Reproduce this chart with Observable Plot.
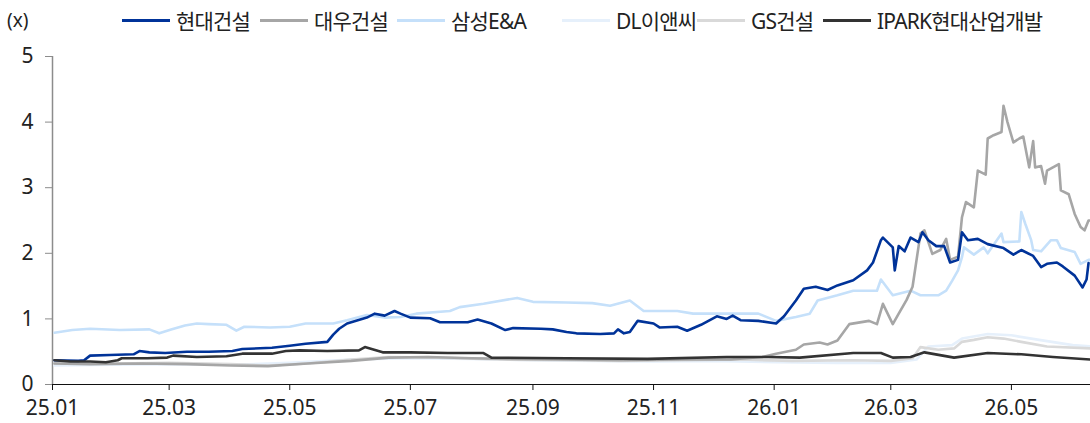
<!DOCTYPE html>
<html><head><meta charset="utf-8">
<script src="https://cdn.jsdelivr.net/npm/d3@7"></script>
<script src="https://cdn.jsdelivr.net/npm/@observablehq/plot@0.6"></script>
<style>
body{margin:0;background:#fff;}
#wrap{width:1090px;font-family:"Noto Sans","Noto Sans CJK KR",sans-serif;color:#222;}
#head{position:relative;height:40px;}
#unit{position:absolute;left:7px;top:7px;font-size:19px;}
.item{position:absolute;top:5px;display:flex;align-items:center;font-size:21px;letter-spacing:-0.8px;white-space:nowrap;}
.sw{width:48px;height:3px;margin-right:6px;}
</style></head>
<body><div id="wrap"><div id="head"><div id="unit">(x)</div></div><div id="chart"></div></div>
<script>
const seriesNames = ["현대건설","대우건설","삼성E&A","DL이앤씨","GS건설","IPARK현대산업개발"];
const seriesColors = ["#003399","#a6a6a6","#c5e0fa","#e6f0fb","#d9d9d9","#333333"];
const xTicks = ["2025-01-01","2025-03-01","2025-05-01","2025-07-01","2025-09-01","2025-11-01","2026-01-01","2026-03-01","2026-05-01"];
const yTicks = [0,1,2,3,4,5];

const hdec = [["2025-01-02",0.37],["2025-01-14",0.36],["2025-01-17",0.37],["2025-01-20",0.44],["2025-01-30",0.45],["2025-02-11",0.46],["2025-02-14",0.51],["2025-02-19",0.49],["2025-02-27",0.48],["2025-03-10",0.50],["2025-03-21",0.50],["2025-04-02",0.51],["2025-04-07",0.54],["2025-04-22",0.56],["2025-05-01",0.59],["2025-05-09",0.62],["2025-05-20",0.65],["2025-05-23",0.76],["2025-05-26",0.85],["2025-05-30",0.93],["2025-06-09",1.02],["2025-06-13",1.08],["2025-06-18",1.05],["2025-06-23",1.12],["2025-06-26",1.08],["2025-07-01",1.02],["2025-07-11",1.01],["2025-07-16",0.95],["2025-07-30",0.95],["2025-08-04",0.99],["2025-08-11",0.93],["2025-08-18",0.83],["2025-08-22",0.86],["2025-09-05",0.85],["2025-09-11",0.84],["2025-09-18",0.80],["2025-09-23",0.78],["2025-10-05",0.77],["2025-10-12",0.78],["2025-10-14",0.84],["2025-10-17",0.78],["2025-10-20",0.80],["2025-10-24",0.97],["2025-11-01",0.93],["2025-11-04",0.87],["2025-11-13",0.88],["2025-11-18",0.82],["2025-11-25",0.91],["2025-12-03",1.04],["2025-12-08",1.00],["2025-12-11",1.05],["2025-12-15",0.98],["2025-12-24",0.97],["2026-01-02",0.93],["2026-01-06",1.04],["2026-01-12",1.28],["2026-01-16",1.46],["2026-01-22",1.49],["2026-01-28",1.44],["2026-02-02",1.51],["2026-02-10",1.59],["2026-02-17",1.74],["2026-02-20",1.86],["2026-02-24",2.20],["2026-02-25",2.24],["2026-03-02",2.09],["2026-03-03",1.74],["2026-03-05",2.11],["2026-03-08",2.03],["2026-03-11",2.24],["2026-03-15",2.17],["2026-03-17",2.32],["2026-03-20",2.20],["2026-03-24",2.11],["2026-03-28",2.11],["2026-03-31",1.86],["2026-04-04",1.90],["2026-04-06",2.32],["2026-04-09",2.20],["2026-04-14",2.22],["2026-04-19",2.14],["2026-04-27",2.08],["2026-05-02",1.98],["2026-05-06",2.05],["2026-05-12",1.96],["2026-05-16",1.79],["2026-05-19",1.84],["2026-05-24",1.86],["2026-05-27",1.80],["2026-06-02",1.66],["2026-06-06",1.48],["2026-06-08",1.60],["2026-06-09",1.85]];

const daewoo = [["2025-01-02",0.32],["2025-01-20",0.31],["2025-02-15",0.32],["2025-03-10",0.31],["2025-04-01",0.29],["2025-04-20",0.28],["2025-05-10",0.32],["2025-06-01",0.36],["2025-06-20",0.41],["2025-07-10",0.42],["2025-08-01",0.40],["2025-08-20",0.39],["2025-09-15",0.38],["2025-10-15",0.37],["2025-11-15",0.38],["2025-12-10",0.38],["2025-12-26",0.42],["2026-01-02",0.47],["2026-01-12",0.53],["2026-01-16",0.61],["2026-01-24",0.64],["2026-01-28",0.61],["2026-02-02",0.67],["2026-02-08",0.92],["2026-02-18",0.97],["2026-02-22",0.92],["2026-02-25",1.23],["2026-03-02",0.92],["2026-03-05",1.08],["2026-03-09",1.29],["2026-03-12",1.49],["2026-03-16",2.30],["2026-03-18",2.35],["2026-03-22",1.99],["2026-03-26",2.05],["2026-03-29",2.22],["2026-03-31",1.90],["2026-04-04",1.95],["2026-04-06",2.55],["2026-04-08",2.78],["2026-04-12",2.70],["2026-04-14",3.26],["2026-04-18",3.20],["2026-04-19",3.75],["2026-04-22",3.80],["2026-04-26",3.85],["2026-04-27",4.25],["2026-04-29",4.00],["2026-05-02",3.69],["2026-05-05",3.75],["2026-05-07",3.78],["2026-05-10",3.31],["2026-05-12",3.71],["2026-05-13",3.31],["2026-05-16",3.33],["2026-05-18",3.06],["2026-05-19",3.26],["2026-05-25",3.36],["2026-05-26",2.96],["2026-05-30",2.90],["2026-06-02",2.60],["2026-06-05",2.40],["2026-06-07",2.35],["2026-06-09",2.50],["2026-06-10",2.50]];

const samsung = [["2025-01-02",0.79],["2025-01-11",0.83],["2025-01-20",0.85],["2025-02-04",0.83],["2025-02-19",0.84],["2025-02-24",0.78],["2025-03-02",0.84],["2025-03-09",0.90],["2025-03-15",0.93],["2025-03-21",0.92],["2025-03-30",0.91],["2025-04-04",0.82],["2025-04-08",0.88],["2025-04-21",0.87],["2025-05-01",0.88],["2025-05-09",0.93],["2025-05-23",0.93],["2025-05-30",0.98],["2025-06-09",1.06],["2025-06-18",1.02],["2025-06-26",1.03],["2025-07-04",1.08],["2025-07-21",1.12],["2025-07-26",1.18],["2025-08-07",1.23],["2025-08-24",1.32],["2025-09-01",1.26],["2025-09-18",1.25],["2025-10-01",1.24],["2025-10-10",1.20],["2025-10-20",1.28],["2025-10-27",1.12],["2025-11-13",1.12],["2025-11-21",1.08],["2025-12-24",1.08],["2026-01-02",0.97],["2026-01-12",1.03],["2026-01-19",1.08],["2026-01-23",1.28],["2026-02-02",1.36],["2026-02-10",1.43],["2026-02-15",1.43],["2026-02-22",1.43],["2026-02-24",1.60],["2026-03-02",1.36],["2026-03-11",1.43],["2026-03-16",1.36],["2026-03-25",1.36],["2026-03-29",1.43],["2026-04-01",1.58],["2026-04-04",1.74],["2026-04-06",1.94],["2026-04-07",2.09],["2026-04-12",1.98],["2026-04-17",2.09],["2026-04-19",2.00],["2026-04-26",2.30],["2026-04-27",2.17],["2026-05-05",2.18],["2026-05-06",2.63],["2026-05-08",2.45],["2026-05-11",2.20],["2026-05-12",2.05],["2026-05-16",2.03],["2026-05-21",2.20],["2026-05-24",2.20],["2026-05-26",2.08],["2026-06-02",2.02],["2026-06-05",1.84],["2026-06-09",1.90],["2026-06-10",1.90]];

const dl = [["2025-01-02",0.29],["2025-02-01",0.30],["2025-03-01",0.31],["2025-04-01",0.30],["2025-05-01",0.33],["2025-06-01",0.38],["2025-07-01",0.40],["2025-08-01",0.39],["2025-09-01",0.37],["2025-10-01",0.36],["2025-11-01",0.35],["2025-12-01",0.36],["2026-01-02",0.34],["2026-02-01",0.33],["2026-03-01",0.33],["2026-03-14",0.38],["2026-03-20",0.58],["2026-04-01",0.60],["2026-04-06",0.70],["2026-04-19",0.77],["2026-05-01",0.75],["2026-05-15",0.68],["2026-06-01",0.60],["2026-06-10",0.58]];

const gs = [["2025-01-02",0.32],["2025-02-01",0.32],["2025-03-01",0.33],["2025-04-01",0.31],["2025-04-20",0.29],["2025-05-10",0.32],["2025-06-01",0.38],["2025-06-20",0.42],["2025-07-15",0.41],["2025-08-15",0.38],["2025-09-15",0.37],["2025-10-15",0.36],["2025-11-15",0.37],["2025-12-15",0.38],["2026-01-10",0.36],["2026-02-10",0.37],["2026-03-01",0.36],["2026-03-12",0.40],["2026-03-16",0.57],["2026-03-25",0.53],["2026-04-02",0.55],["2026-04-06",0.65],["2026-04-12",0.68],["2026-04-19",0.72],["2026-04-27",0.70],["2026-05-06",0.65],["2026-05-19",0.58],["2026-06-10",0.55]];

const ipark = [["2025-01-02",0.37],["2025-01-10",0.35],["2025-01-20",0.35],["2025-01-28",0.34],["2025-02-03",0.37],["2025-02-05",0.40],["2025-02-18",0.40],["2025-02-28",0.41],["2025-03-03",0.44],["2025-03-15",0.42],["2025-03-30",0.43],["2025-04-07",0.47],["2025-04-22",0.47],["2025-04-29",0.51],["2025-05-06",0.52],["2025-05-20",0.51],["2025-06-05",0.52],["2025-06-08",0.57],["2025-06-17",0.49],["2025-07-01",0.49],["2025-07-20",0.48],["2025-08-07",0.48],["2025-08-11",0.41],["2025-09-18",0.40],["2025-10-29",0.39],["2025-12-08",0.42],["2025-12-29",0.42],["2026-01-14",0.41],["2026-02-10",0.48],["2026-02-24",0.48],["2026-03-02",0.41],["2026-03-11",0.42],["2026-03-18",0.49],["2026-04-02",0.41],["2026-04-19",0.48],["2026-05-06",0.46],["2026-05-22",0.42],["2026-06-10",0.38]];

const seriesData = [hdec, daewoo, samsung, dl, gs, ipark];
const drawOrder = [3, 4, 2, 1, 0, 5];
const legendLeft = [122, 260, 397, 562, 697, 823];

const rowsOf = i => seriesData[i].map(([d, v]) => ({name: seriesNames[i], date: new Date(d + "T00:00:00Z"), value: v}));

const head = document.getElementById("head");
seriesNames.forEach((n, i) => {
  const it = document.createElement("div"); it.className = "item"; it.style.left = legendLeft[i] + "px";
  const sw = document.createElement("div"); sw.className = "sw"; sw.style.background = seriesColors[i];
  const tx = document.createElement("span"); tx.textContent = n;
  it.appendChild(sw); it.appendChild(tx); head.appendChild(it);
});

const xDomain = [new Date("2025-01-01T00:00:00Z"), new Date("2026-06-10T00:00:00Z")];
const chart = Plot.plot({
  width: 1090, height: 383,
  marginTop: 16, marginBottom: 39, marginLeft: 52, marginRight: 0,
  style: {fontFamily: '"Noto Sans","Noto Sans CJK KR",sans-serif', fontSize: "21px", color: "#222", background: "#fff"},
  x: {type: "utc", domain: xDomain, label: null},
  y: {domain: [0, 5], label: null},
  marks: [
    Plot.ruleX([xDomain[0]], {y1: 0, y2: 5, stroke: "#8c8c8c", strokeWidth: 1.5}),
    Plot.axisY({ticks: yTicks, tickSize: 7, tickPadding: 12, stroke: "#8c8c8c", tickFormat: d => String(d)}),
    Plot.ruleY([0], {stroke: "#111", strokeWidth: 1.2}),
    Plot.axisX({ticks: xTicks.map(d => new Date(d + "T00:00:00Z")), tickSize: 6, tickPadding: 10, stroke: "#111", tickFormat: d3.utcFormat("%y.%m")}),
    ...drawOrder.map(i => Plot.line(rowsOf(i), {x: "date", y: "value", stroke: seriesColors[i], strokeWidth: 2.6, curve: "linear"}))
  ]
});
document.getElementById("chart").appendChild(chart);
</script></body></html>
